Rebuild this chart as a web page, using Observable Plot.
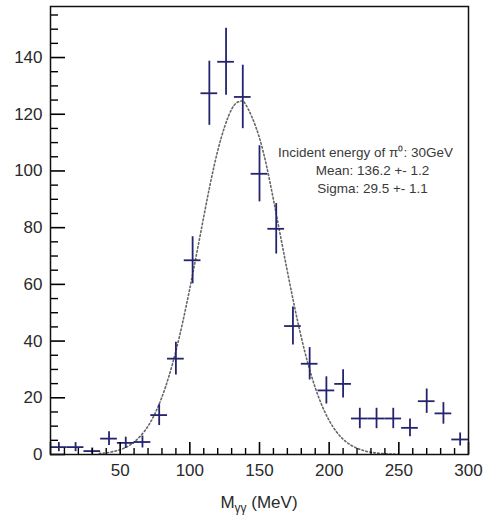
<!DOCTYPE html>
<html>
<head>
<meta charset="utf-8">
<script src="https://cdn.jsdelivr.net/npm/d3@7"></script>
<script src="https://cdn.jsdelivr.net/npm/@observablehq/plot@0.6"></script>
<style>
  html, body { margin: 0; padding: 0; background: #fff; }
  #chart svg { display: block; }
</style>
</head>
<body>
<div id="chart"></div>
<script>
// Histogram bin centres (MeV), bin half-width 6 MeV
const binCenters = [6, 18, 30, 42, 54, 66, 78, 90, 102, 114, 126, 138, 150, 162, 174, 186, 198, 210, 222, 234, 246, 258, 270, 282, 294];
const binHalfWidth = 6;
// Counts
const counts = [2.6, 2.6, 1.2, 5.6, 4.1, 4.4, 13.9, 33.8, 68.5, 127.4, 138.5, 126.1, 99.0, 79.6, 45.3, 32.0, 22.6, 24.9, 12.7, 12.7, 12.7, 9.4, 18.8, 14.5, 5.3];
// Error bar half-heights
const errors = [1.6, 1.6, 1.1, 2.4, 2.0, 2.1, 3.7, 5.8, 8.3, 11.3, 11.8, 11.2, 9.9, 8.9, 6.7, 5.7, 4.8, 5.0, 3.6, 3.6, 3.6, 3.1, 4.3, 3.8, 2.3];
// Fit curve (dotted)
const fitX = [35, 40, 50, 60, 70, 80, 90, 100, 110, 120, 130, 136, 140, 150, 160, 170, 180, 190, 200, 210, 220, 230, 240, 250];
const fitY = [0.35, 0.6, 1.7, 4.4, 10.0, 20.3, 36.5, 58.6, 83.9, 107.1, 121.8, 124.5, 123.5, 111.6, 89.9, 64.6, 41.3, 23.6, 12.0, 5.4, 2.2, 0.8, 0.26, 0.07];
// Axes
const xTickLabels = [50, 100, 150, 200, 250, 300];
const yTickLabels = [0, 20, 40, 60, 80, 100, 120, 140];
const xMajorTicks = [0, 50, 100, 150, 200, 250, 300];
const xMinorTicks = [10, 20, 30, 40, 60, 70, 80, 90, 110, 120, 130, 140, 160, 170, 180, 190, 210, 220, 230, 240, 260, 270, 280, 290];
const yMajorTicks = [0, 20, 40, 60, 80, 100, 120, 140];
const yMinorTicks = [5, 10, 15, 25, 30, 35, 45, 50, 55, 65, 70, 75, 85, 90, 95, 105, 110, 115, 125, 130, 135, 145, 150, 155];
const xDomain = [0, 300];
const yDomain = [0, 158];
// Annotation
const annotation = ["Incident energy of \u03C0\u2070: 30GeV", "Mean: 136.2 +- 1.2", "Sigma: 29.5 +- 1.1"];

const points = binCenters.map((x, i) => ({x, y: counts[i], e: errors[i]}));
const fit = fitX.map((x, i) => ({x, y: fitY[i]}));

const W = 484, H = 518;
const mL = 50, mR = 16, mT = 6, mB = 64;
const plotW = W - mL - mR, plotH = H - mT - mB;
// tick lengths in pixels converted to data units
const xUnit = (xDomain[1] - xDomain[0]) / plotW;
const yUnit = (yDomain[1] - yDomain[0]) / plotH;
const navy = "#24246e";
const tickColor = "#000";
const font = "'Liberation Sans', Arial, Helvetica, sans-serif";

const chart = Plot.plot({
  width: W,
  height: H,
  marginLeft: mL,
  marginRight: mR,
  marginTop: mT,
  marginBottom: mB,
  style: {fontFamily: font, background: "#fff"},
  x: {domain: xDomain, axis: null},
  y: {domain: yDomain, axis: null},
  marks: [
    // fit curve
    Plot.line(fit, {x: "x", y: "y", curve: "natural", stroke: "#666", strokeWidth: 1.6, strokeDasharray: "1.6,2.4"}),
    // error bars
    Plot.ruleX(points, {x: "x", y1: d => d.y - d.e, y2: d => d.y + d.e, stroke: navy, strokeWidth: 1.8}),
    Plot.ruleY(points, {y: "y", x1: d => d.x - binHalfWidth, x2: d => d.x + binHalfWidth, stroke: navy, strokeWidth: 1.8}),
    // inside ticks, y axis
    Plot.ruleY(yMinorTicks, {y: d => d, x1: () => xDomain[0], x2: () => xDomain[0] + 8 * xUnit, stroke: tickColor, strokeWidth: 1.4}),
    Plot.ruleY(yMajorTicks, {y: d => d, x1: () => xDomain[0], x2: () => xDomain[0] + 15 * xUnit, stroke: tickColor, strokeWidth: 1.6}),
    // inside ticks, x axis
    Plot.ruleX(xMinorTicks, {x: d => d, y1: () => yDomain[0], y2: () => yDomain[0] + 6 * yUnit, stroke: tickColor, strokeWidth: 1.4}),
    Plot.ruleX(xMajorTicks, {x: d => d, y1: () => yDomain[0], y2: () => yDomain[0] + 12 * yUnit, stroke: tickColor, strokeWidth: 1.6}),
    // tick labels
    Plot.text(yTickLabels, {y: d => d, text: d => String(d), frameAnchor: "left", dx: -8, textAnchor: "end", fontSize: 17, fill: "#2a2a2a"}),
    Plot.text(xTickLabels, {x: d => d, text: d => String(d), frameAnchor: "bottom", dy: 16, lineAnchor: "middle", fontSize: 17, fill: "#2a2a2a"}),
    // annotation
    Plot.text([annotation[0]], {text: d => d, frameAnchor: "top-right", dx: -103, dy: 141, textAnchor: "middle", fontSize: 13.5, fill: "#3a3a3a"}),
    Plot.text([annotation[1]], {text: d => d, frameAnchor: "top-right", dx: -96, dy: 159, textAnchor: "middle", fontSize: 13.5, fill: "#3a3a3a"}),
    Plot.text([annotation[2]], {text: d => d, frameAnchor: "top-right", dx: -96, dy: 177, textAnchor: "middle", fontSize: 13.5, fill: "#3a3a3a"}),
    Plot.frame({stroke: "#111", strokeWidth: 1.5})
  ]
});

// x-axis title with subscript
const xs = chart.scale("x");
const label = d3.select(chart).append("text")
  .attr("x", xs.apply(150))
  .attr("y", H - 10)
  .attr("text-anchor", "middle")
  .attr("font-family", font)
  .attr("font-size", 17)
  .attr("fill", "#2a2a2a");
label.append("tspan").text("M");
label.append("tspan").attr("font-size", 12).attr("dy", 4).text("\u03B3\u03B3");
label.append("tspan").attr("dy", -4).text(" (MeV)");

document.getElementById("chart").appendChild(chart);
</script>
</body>
</html>
